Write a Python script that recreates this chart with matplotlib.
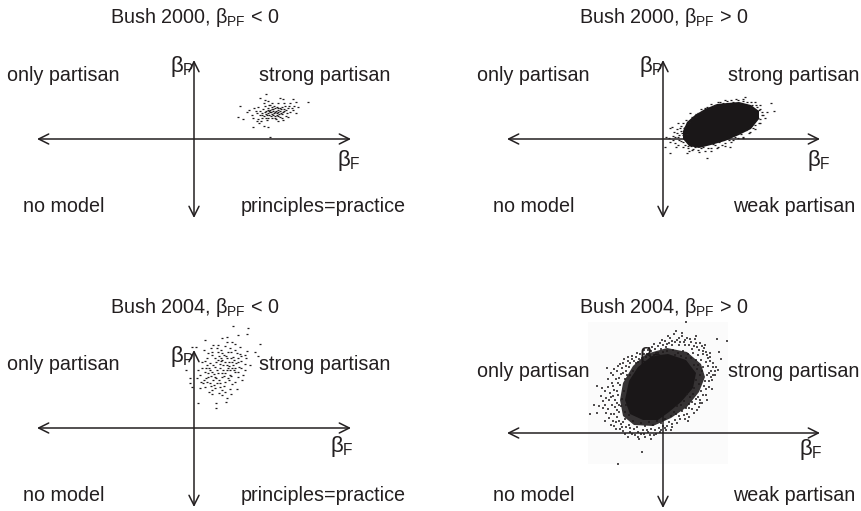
import matplotlib
matplotlib.use("Agg")
import matplotlib.pyplot as plt
from matplotlib.patches import Polygon, Rectangle

plt.rcParams['font.family'] = ['Liberation Sans', 'DejaVu Sans']
plt.rcParams['mathtext.fontset'] = 'custom'
plt.rcParams['mathtext.rm'] = 'Liberation Sans'
plt.rcParams['mathtext.it'] = 'Liberation Sans'
plt.rcParams['mathtext.bf'] = 'Liberation Sans'

W, H = 862, 511
INK = '#231f20'

titles = [r'Bush 2000, $\beta_{\mathrm{PF}}$ < 0', r'Bush 2000, $\beta_{\mathrm{PF}}$ > 0',
          r'Bush 2004, $\beta_{\mathrm{PF}}$ < 0', r'Bush 2004, $\beta_{\mathrm{PF}}$ > 0']
upper_left = ['only partisan'] * 4
upper_right = ['strong partisan'] * 4
lower_left = ['no model'] * 4
lower_right = ['principles=practice', 'weak partisan', 'principles=practice', 'weak partisan']

# posterior draws, (beta_F, beta_P), one unit = one pixel
draws_2000_neg = [(72,45),(66,41),(71,39),(74,38),(86,41),(89,40),(99,40),(114,37),(46,33),(102,37),
    (96,36),(84,36),(76,34),(71,33),(64,32),(60,31),(55,29),(53,27),(44,22),(49,20),(58,24),(59,21),
    (63,18),(59,12),(65,16),(70,13),(74,12),(76,2),(68,21),(73,19),(84,18),(89,19),(81,21),(94,22),
    (102,26),(104,32),(99,29),(98,31),(94,31),(91,33),(88,32),(84,31),(81,31),(78,30),(74,29),(71,27),
    (68,26),(73,24),(78,25),(83,26),(86,28),(89,27),(93,26),(79,28),(76,27),(81,23),(86,22),(69,30),
    (74,31),(88,25),(84,29),(80,33),(77,23),(72,21),(90,30),(96,27),(66,28),(63,26),(78,21),(83,32),
    (87,30),(74,26),(70,23),(92,23),(84,23),(80,26),(76,29),(82,28),(85,25),(77,27),(72,28),(79,24),
    (75,28),(78,32),(81,27),(84,27),(86,31),(72,25),(75,24),(79,30),(83,24),(87,26),(90,28),(68,24),
    (66,24),(62,28),(92,29),(95,33),(100,33),(75,34),(70,36),(78,36),(90,36),(64,20),(67,18),(82,20),
    (74,21),(88,21)]

draws_2004_neg = [(39,102),(54,100),(53,94),(44,93),(33,91),(28,90),(11,88),(-2,81),(2,81),(66,84),
    (61,76),(64,72),(41,84),(46,81),(33,86),(38,86),(24,83),(19,83),(23,80),(18,76),(14,75),(28,75),
    (34,76),(41,78),(53,77),(51,73),(52,70),(56,63),(51,64),(44,70),(39,71),(33,70),(28,68),(21,70),
    (16,65),(13,63),(19,63),(26,64),(33,63),(39,63),(45,61),(51,58),(41,56),(36,53),(29,58),(23,58),
    (18,56),(11,56),(8,60),(6,53),(14,51),(21,51),(28,51),(34,50),(44,51),(49,53),(16,45),(23,45),
    (31,46),(41,46),(48,48),(9,45),(7,46),(11,41),(18,38),(21,40),(28,38),(36,39),(43,39),(18,34),
    (28,33),(33,30),(22,25),(32,26),(22,20),(4,25),(-4,50),(-4,45),(-2,41),(-8,58),(26,60),(38,60),
    (44,56),(31,66),(24,55),(19,48),(38,66),(13,70),(15,60),(30,73),(36,58),(24,68),(12,50),(26,45),
    (17,42),(40,68),(47,67),(35,48),(21,61),(29,63),(35,66),(42,65),(25,72),(16,58),(31,55),(37,70),
    (10,78),(17,80),(27,78),(36,80),(43,75),(47,72),(22,66),(27,70),(34,60),(20,54),(12,60),(8,66),
    (14,55),(40,58),(47,60),(30,52),(25,48),(13,46),(20,43),(30,42),(38,44),(15,36),(25,35),(31,36),
    (37,34),(6,40),(3,50),(4,58),(11,67),(18,73),(24,76),(31,82),(37,76),(44,66),(28,55),(33,58),
    (22,50),(17,52),(35,62),(41,60),(27,67),(32,72),(46,74),(10,48),(26,41),(37,52)]

draws_2000_pos = [(3,2),(2,-8),(7,-14),(9,12),(7,11),(15,16),(20,16),(17,11),(14,6),(10,-1),(7,-3),
    (15,-6),(20,-8),(24,-14),(29,-11),(44,-19),(54,-9),(67,-8),(70,-1),(80,2),(87,7),(97,16),(102,21),
    (104,27),(111,28),(108,36),(97,34),(92,37),(82,42),(73,40),(84,37),(64,38),(57,37),(50,33),(42,31),
    (35,26),(29,22),(27,26),(23,19),(18,13),(19,6),(12,2),(22,-6),(32,-8),(40,-8),(59,-6),(75,6),(90,11),
    (95,21),(99,27),(89,34),(77,36),(15,2),(18,-2),(12,-4),(25,-9),(35,-11),(45,-9),(52,-6),(62,-4),
    (72,2),(78,5),(83,9),(92,14),(97,20),(99,24),(96,29),(94,32),(80,38),(70,37),(60,36),(52,34),(46,30),
    (38,27),(33,22),(26,17),(22,12),(18,8),(16,4),(11,7),(24,5),(28,-7),(38,-9),(50,-5),(56,-3),(66,-1),
    (20,4),(14,10),(21,11),(25,15),(29,20),(33,25),(38,30),(44,32),(48,35),(55,37),(62,39),(68,39),
    (75,39),(80,40),(88,37),(93,34),(97,30),(100,24),(96,16),(92,10),(86,6),(80,1),(75,1),(68,-3),
    (62,-7),(55,-8),(48,-9),(42,-12),(36,-13),(30,-10),(25,-7),(20,-3),(16,-1),(10,3),(6,1),(13,-8),
    (26,-12),(48,-12)]
core_2000_pos = [(20,8),(24,17),(32,24),(42,30),(54,35),(64,36),(76,37),(88,34),(96,28),(96,20),(88,10),
    (76,4),(62,-2),(48,-6),(36,-9),(26,-7),(20,0)]

draws_2004_pos = [(-8,84),(-3,90),(2,92),(7,95),(11,99),(14,93),(19,97),(24,95),(28,91),(32,94),(37,90),
    (41,85),(34,86),(29,84),(22,88),(16,88),(9,88),(3,86),(-2,84),(-7,80),(-12,82),(-16,79),(-19,83),
    (-23,79),(-27,76),(-31,77),(-35,72),(-39,74),(-43,69),(-37,67),(-33,70),(-29,72),(-25,71),(-21,75),
    (-17,76),(-13,78),(-9,77),(-5,80),(0,81),(4,82),(10,83),(15,80),(20,82),(25,79),(30,80),(35,78),
    (40,79),(45,75),(43,71),(38,73),(33,73),(28,75),(23,75),(18,77),(12,78),(35,68),(40,66),(45,67),
    (48,62),(52,58),(49,53),(44,58),(39,62),(34,64),(31,68),(37,58),(42,52),(46,46),(41,47),(36,49),
    (33,53),(38,42),(43,38),(35,36),(30,39),(31,45),(27,36),(24,39),(21,32),(26,29),(32,29),(29,24),
    (23,25),(18,28),(14,27),(19,22),(24,19),(16,17),(11,21),(8,17),(12,13),(6,11),(2,14),(-2,10),(-6,12),
    (-10,8),(-14,11),(-18,7),(-22,10),(-26,6),(-30,12),(-34,8),(-38,14),(-42,9),(-46,16),(-50,12),
    (-44,21),(-48,26),(-52,19),(-55,24),(-58,28),(-54,33),(-50,37),(-46,30),(-42,27),(-38,21),(-34,18),
    (-37,28),(-41,34),(-45,38),(-49,43),(-53,40),(-57,35),(-60,32),(-55,46),(-51,50),(-47,54),(-43,48),
    (-39,42),(-38,54),(-42,59),(-46,62),(-50,58),(-37,62),(-33,58),(-30,62),(-64,27),(-66,20),(-52,8),
    (-58,12),(-47,4),(-40,2),(-33,1),(-28,-2),(-22,-1),(-15,1),(-9,-2),(-3,1),(2,5),(8,3),(-18,-4),
    (-24,-6),(-12,-6),(-35,-4),(23,111),(54,94),(64,92),(56,81),(58,74),(-45,-31),(-21,-19),(-66,47),
    (-56,65),(-45,67),(-73,19),(-69,28),(47,80),(55,63),(50,70),(46,60),(34,23),(37,30),(25,12),(14,10),
    (6,90),(12,91),(17,91),(21,91),(26,88),(31,87),(36,83),(40,82),(44,78),(47,72),(50,66),(52,62),
    (48,56),(46,52),(43,44),(40,38),(37,33),(33,34),(29,31),(26,25),(21,18),(17,14),(13,19),(9,9),(4,7),
    (0,7),(-4,5),(-8,3),(-12,4),(-16,3),(-20,3),(-25,1),(-29,4),(-33,5),(-37,6),(-41,6),(-44,12),(-47,11),
    (-40,11),(-49,19),(-46,23),(-51,28),(-44,28),(-48,33),(-52,36),(-46,42),(-50,47),(-45,50),(-44,55),
    (-40,60),(-36,58),(-41,65),(-34,66),(-31,74),(-27,70),(-24,74),(-19,79),(-15,83),(-11,86),(-5,87),
    (0,88),(4,89),(-1,93),(9,92),(16,95),(22,93),(27,94),(33,90),(39,87),(43,81),(47,76),(42,88),(50,58),
    (53,66),(49,44),(44,33),(39,30),(36,26),(31,20),(26,16),(22,14),(9,6),(3,3),(-2,3),(-7,-1),(-13,-2),
    (-19,-1),(-25,-4),(-31,-1),(-38,-1),(-43,4),(-49,7),(-54,15),(-57,20),(-60,25),(-62,37),(-58,42),
    (-61,45),(-55,54),(-52,60),(-49,64),(-40,70),(-35,76),(-26,80),(-14,85),(-9,89),(5,97),(13,102),
    (19,100),(33,97)]
core_2004_pos = [(-38,33),(-34,52),(-25,66),(-11,77),(5,79),(23,73),(33,60),(30,45),(18,31),(6,21),
    (-5,13),(-20,13),(-33,19)]
halo_2004_pos = [(-43,33),(-40,50),(-30,67),(-17,79),(4,85),(24,81),(38,69),(42,56),(36,41),(24,26),
    (8,15),(-10,7),(-29,8),(-40,17)]

draws = [draws_2000_neg, draws_2000_pos, draws_2004_neg, draws_2004_pos]
cores = [None, core_2000_pos, None, core_2004_pos]
halos = [None, None, None, halo_2004_pos]
speck_lw = [0.9, 0.9, 0.9, 1.1]

# pixel layout of the panels
origin_x = [194, 663, 194, 663]
origin_y = [139, 139, 428, 433]
h_left = [37, 507, 37, 507]
h_right = [351, 820, 351, 820]
v_top = [60, 60, 350, 355]
v_bottom = [218, 218, 507, 508]
panel_x = [(0, 431), (431, 862), (0, 431), (431, 862)]
panel_y = [(0, 255), (0, 255), (255, 511), (255, 511)]

# left edge and baseline of the labels
title_pos = [(110, 23), (579, 23), (110, 313), (579, 313)]
ul_pos = [(7, 81), (477, 81), (7, 370), (477, 377)]
ur_pos = [(259, 81), (728, 81), (259, 370), (728, 377)]
ll_pos = [(23, 212), (493, 212), (23, 501), (493, 501)]
lr_pos = [(241, 212), (733, 212), (241, 501), (733, 501)]
bf_pos = [(337, 166), (807, 166), (330, 452), (799, 455)]
bp_pos = [(170, 72), (639, 72), (170, 362), (639, 363)]

fig = plt.figure(figsize=(W / 100, H / 100), dpi=100)


def put_text(ax, i, pos, s, size=14.2):
    # labels are placed in pixels, converted to this panel's units
    ax.text(pos[0] - origin_x[i], origin_y[i] - pos[1], s, fontsize=size, color=INK,
            ha='left', va='baseline', zorder=1)


for i in range(4):
    x0, x1 = panel_x[i]
    y0, y1 = panel_y[i]
    ax = fig.add_axes([x0 / W, 1 - y1 / H, (x1 - x0) / W, (y1 - y0) / H])
    ax.set_xlim(x0 - origin_x[i], x1 - origin_x[i])
    ax.set_ylim(origin_y[i] - y1, origin_y[i] - y0)
    ax.axis('off')

    if i == 3:
        # the scanned cloud sits on a slightly grey square
        ax.add_patch(Rectangle((-75, -31), 140, 142, color='#fbfbfb', lw=0, zorder=0))

    arrow = dict(arrowstyle='<->,head_length=0.72,head_width=0.36', color=INK, lw=1.1,
                 shrinkA=0, shrinkB=0)
    ox, oy = origin_x[i], origin_y[i]
    ax.annotate('', xy=(h_right[i] - ox, 0), xytext=(h_left[i] - ox, 0), arrowprops=arrow, zorder=2)
    ax.annotate('', xy=(0, oy - v_top[i]), xytext=(0, oy - v_bottom[i]), arrowprops=arrow, zorder=2)

    put_text(ax, i, title_pos[i], titles[i])
    put_text(ax, i, ul_pos[i], upper_left[i])
    put_text(ax, i, ur_pos[i], upper_right[i])
    put_text(ax, i, ll_pos[i], lower_left[i])
    put_text(ax, i, lr_pos[i], lower_right[i])
    put_text(ax, i, bf_pos[i], r'$\beta_{\mathrm{F}}$', 16)
    put_text(ax, i, bp_pos[i], r'$\beta_{\mathrm{P}}$', 16)

    if halos[i] is not None:
        ax.add_patch(Polygon(halos[i], closed=True, color='#1a1718', alpha=0.88, lw=0, zorder=3))
    if cores[i] is not None:
        ax.add_patch(Polygon(cores[i], closed=True, color='#1a1718', lw=0, zorder=3))
    xs = [p[0] for p in draws[i]]
    ys = [p[1] for p in draws[i]]
    ax.scatter(xs, ys, marker='_', s=2.6, color='#1f1b1c', linewidths=speck_lw[i], zorder=4)

fig.savefig('out.png', dpi=100)
